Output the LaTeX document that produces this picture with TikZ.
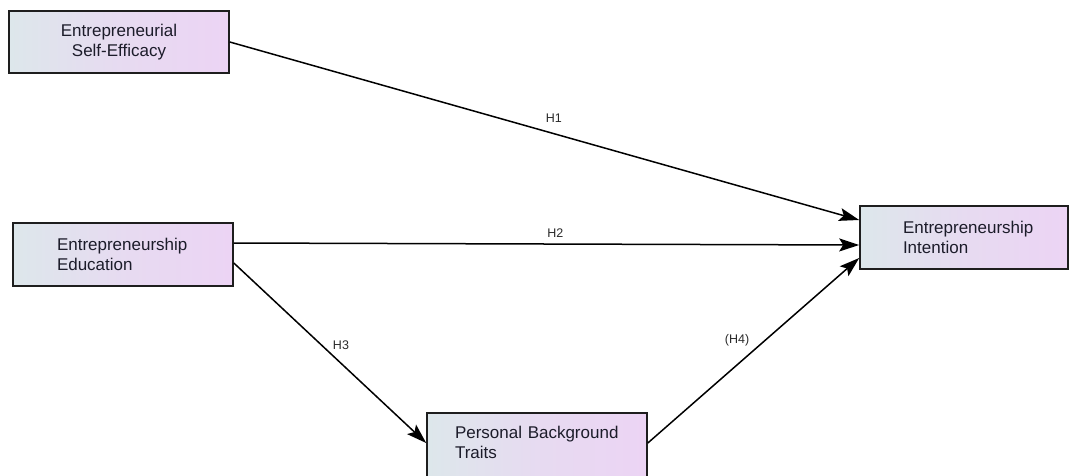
\documentclass[tikz,border=0pt]{standalone}
\usepackage{fontspec}
\setmainfont{Liberation Sans}
\usetikzlibrary{arrows.meta}
\definecolor{BoxLeft}{HTML}{DDE7EB}
\definecolor{BoxRight}{HTML}{ECD4F4}
\definecolor{BoxLine}{HTML}{1E1E1E}
\definecolor{TextDark}{HTML}{1C1C2A}
\definecolor{LabelText}{HTML}{2A2A2A}

\begin{document}
\begin{tikzpicture}[
	x=1pt, y=-1pt,
	construct/.style={
		rectangle,
		draw=BoxLine,
		line width=1.6pt,
		left color=BoxLeft,
		right color=BoxRight,
		middle color=BoxRight!65!BoxLeft,
		text=TextDark,
		minimum width=220pt,
		minimum height=62pt,
		inner xsep=0pt,
		font=\fontsize{17}{20}\selectfont
	},
	% Directed path style
	path arrow/.style={
		draw=black,
		line width=1.5pt,
		-{Stealth[length=20pt,width=13pt,inset=4pt]}
	},
	hyp/.style={
		text=LabelText,
		font=\fontsize{12.5}{14}\selectfont
	}
	]
	\useasboundingbox (0,0) rectangle (1070,475);
	
	% ================= NODES =================
	\node[construct, align=center, text width=200pt] (ESE) at (119, 42) {Entrepreneurial\\Self-Efficacy};
	
	\node[construct, align=left, text width=132pt, minimum height=63pt] (EE) at (123, 254.5) {Entrepreneurship\\Education};
	
	\node[construct, align=left, text width=164pt, minimum height=74pt, text depth=36pt] (PBT) at (537, 450) {Personal Background\\Traits};
	
	\node[construct, align=left, text width=122pt, minimum width=208pt, minimum height=63pt] (EI) at (964, 237.5) {Entrepreneurship\\Intention};
	
	% ================= EDGES =================
	\draw[path arrow] (ESE.east) -- ([yshift=17.5pt]EI.west)
		node[hyp, pos=0.515, yshift=15pt] {H1};
	\draw[path arrow] ([yshift=11.5pt]EE.east) -- ([yshift=-7.5pt]EI.west)
		node[hyp, pos=0.514, yshift=11pt] {H2};
	\draw[path arrow] ([yshift=-8.5pt]EE.east) -- ([yshift=7pt]PBT.west)
		node[hyp, pos=0.557, yshift=18pt] {H3};
	\draw[path arrow] ([yshift=7pt]PBT.east) -- ([yshift=-20.5pt]EI.west)
		node[hyp, pos=0.4225, yshift=25pt] {(H4)};
	
\end{tikzpicture}
\end{document}
